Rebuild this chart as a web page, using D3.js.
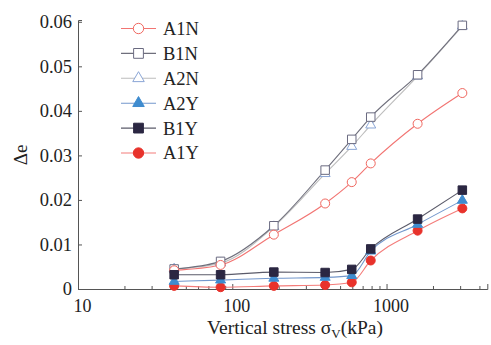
<!DOCTYPE html>
<html>
<head>
<meta charset="utf-8">
<script src="https://cdn.jsdelivr.net/npm/d3@7"></script>
<style>
  html, body { margin: 0; padding: 0; background: #fff; }
  svg { display: block; }
  text { font-family: "Liberation Serif", "Times New Roman", serif; fill: #222; }
</style>
</head>
<body>
<svg id="chart" width="491" height="345"></svg>
<script>
// Vertical stress levels (kPa) of the loading steps
const stress = [42, 84, 186, 400, 595, 790, 1590, 3100];

// Change in void ratio Δe for each specimen
const A1N = [0.0042, 0.0054, 0.0122, 0.0192, 0.0240, 0.0282, 0.0371, 0.0440];
const B1N = [0.0045, 0.0062, 0.0142, 0.0267, 0.0336, 0.0386, 0.0481, 0.0592];
const A2N = [0.0045, 0.0058, 0.0140, 0.0259, 0.0320, 0.0368, 0.0478, 0.0590];
const A2Y = [0.0017, 0.0020, 0.0024, 0.0026, 0.0030, 0.0085, 0.0145, 0.0199];
const B1Y = [0.0032, 0.0032, 0.0038, 0.0037, 0.0044, 0.0090, 0.0157, 0.0222];
const A1Y = [0.0007, 0.0004, 0.0007, 0.0009, 0.0015, 0.0064, 0.0131, 0.0181];

const seriesNames = ["A1N", "B1N", "A2N", "A2Y", "B1Y", "A1Y"];
const yTicks = [0, 0.01, 0.02, 0.03, 0.04, 0.05, 0.06];
const xMajor = [10, 100, 1000];

const valuesByName = { A1N, B1N, A2N, A2Y, B1Y, A1Y };

// Line and marker styling per specimen
const styles = {
  A1N: { line: "#f27472", shape: d3.symbolCircle, fill: "#ffffff", stroke: "#f0675f" },
  B1N: { line: "#6f6f7c", shape: d3.symbolSquare, fill: "#ffffff", stroke: "#6a6a80" },
  A2N: { line: "#bdbdbd", shape: d3.symbolTriangle, fill: "#ffffff", stroke: "#8ba6d6" },
  A2Y: { line: "#7397cc", shape: d3.symbolTriangle, fill: "#3f8ccf", stroke: "#3f8ccf" },
  B1Y: { line: "#5b5b6a", shape: d3.symbolSquare, fill: "#2b2742", stroke: "#2b2742" },
  A1Y: { line: "#f47c7a", shape: d3.symbolCircle, fill: "#e8322b", stroke: "#e8322b" }
};

const svg = d3.select("#chart");

const x = d3.scaleLog().domain([10, 4500]).range([78, 487.3]);
const y = d3.scaleLinear().domain([0, 0.0604]).range([289, 20]);

// Log axis tick values: majors at decades, minors in between
const xMinor = [];
for (let dec = 10; dec < 4500; dec *= 10) {
  for (let k = 2; k <= 9; k++) if (dec * k <= 4500) xMinor.push(dec * k);
}

// Minor ticks (inward, no labels)
svg.append("g")
  .attr("transform", "translate(0,289)")
  .call(d3.axisBottom(x).tickValues(xMinor).tickSize(-3).tickFormat(""))
  .call(g => g.select(".domain").remove());

// Major ticks with labels
const gx = svg.append("g")
  .attr("transform", "translate(0,289)")
  .call(d3.axisBottom(x).tickValues(xMajor).tickSize(-5).tickPadding(10)
    .tickFormat(d3.format("d")));
gx.selectAll("text").attr("font-size", 18).attr("dx", 4);

const gy = svg.append("g")
  .attr("transform", "translate(78,0)")
  .call(d3.axisLeft(y).tickValues(yTicks).tickSize(-4).tickPadding(6)
    .tickFormat(d => d === 0 ? "0" : d3.format(".2f")(d)));
gy.selectAll("text").attr("font-size", 18.5);

svg.selectAll(".domain").attr("stroke", "#555").attr("stroke-width", 1);
svg.selectAll(".tick line").attr("stroke", "#555");

// Axis titles
svg.append("text")
  .attr("transform", "translate(27,155) rotate(-90)")
  .attr("text-anchor", "middle")
  .attr("font-size", 19)
  .text("Δe");

const xt = svg.append("text")
  .attr("x", 295)
  .attr("y", 334)
  .attr("text-anchor", "middle")
  .attr("font-size", 19.5);
xt.append("tspan").text("Vertical stress σ");
xt.append("tspan").attr("font-size", 13).attr("dy", 4).text("V");
xt.append("tspan").attr("dy", -4).text("(kPa)");

// Curves and markers
const line = d3.line()
  .x(d => x(d[0]))
  .y(d => y(d[1]))
  .curve(d3.curveMonotoneX);

const markerSize = { circle: 9, square: 8.5, triangle: 10 };
function symbolArea(shape, s) {
  if (shape === d3.symbolCircle) return Math.PI * s * s / 4;
  if (shape === d3.symbolSquare) return s * s;
  return Math.sqrt(3) / 4 * s * s;
}
function sizeFor(shape, scale) {
  const s = shape === d3.symbolCircle ? markerSize.circle
    : shape === d3.symbolSquare ? markerSize.square : markerSize.triangle;
  return symbolArea(shape, s * scale);
}

const drawOrder = ["A2N", "B1N", "A1N", "A1Y", "A2Y", "B1Y"];
drawOrder.forEach(name => {
  const st = styles[name];
  const pts = stress.map((s, i) => [s, valuesByName[name][i]]);
  svg.append("path")
    .datum(pts)
    .attr("fill", "none")
    .attr("stroke", st.line)
    .attr("stroke-width", 1.1)
    .attr("d", line);
});
drawOrder.forEach(name => {
  const st = styles[name];
  const pts = stress.map((s, i) => [s, valuesByName[name][i]]);
  svg.append("g").selectAll("path")
    .data(pts)
    .join("path")
    .attr("transform", d => `translate(${x(d[0])},${y(d[1])})`)
    .attr("d", d3.symbol().type(st.shape).size(sizeFor(st.shape, 1)))
    .attr("fill", st.fill)
    .attr("stroke", st.stroke)
    .attr("stroke-width", 1);
});

// Legend
const legend = svg.append("g");
seriesNames.forEach((name, i) => {
  const st = styles[name];
  const ly = 28.5 + i * 24.9;
  legend.append("line")
    .attr("x1", 121).attr("x2", 156)
    .attr("y1", ly).attr("y2", ly)
    .attr("stroke", st.line).attr("stroke-width", 1.1);
  legend.append("path")
    .attr("transform", `translate(138.5,${ly})`)
    .attr("d", d3.symbol().type(st.shape).size(sizeFor(st.shape, 1.15)))
    .attr("fill", st.fill)
    .attr("stroke", st.stroke)
    .attr("stroke-width", 1);
  legend.append("text")
    .attr("x", 163)
    .attr("y", ly)
    .attr("dy", "0.35em")
    .attr("font-size", 18.5)
    .text(name);
});
</script>
</body>
</html>
